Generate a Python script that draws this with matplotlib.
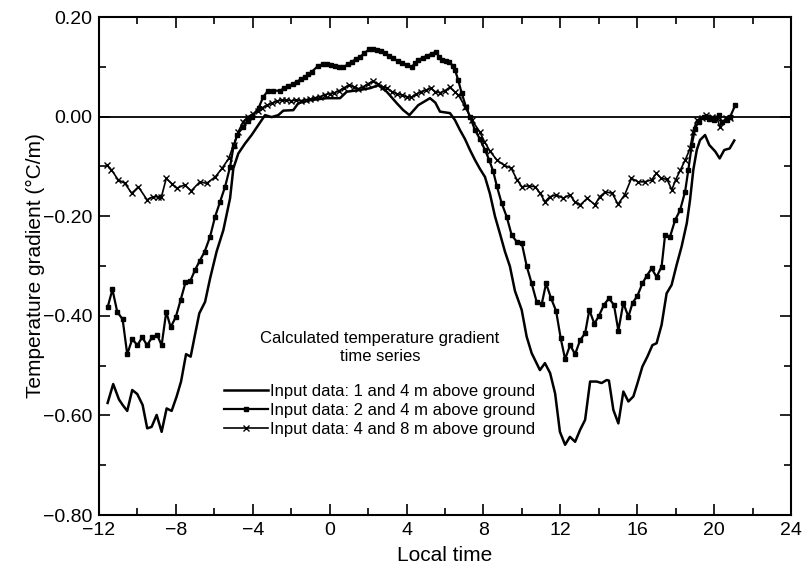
import matplotlib
matplotlib.use('Agg')
import matplotlib.pyplot as plt
from matplotlib.ticker import MultipleLocator, FuncFormatter

plt.rcParams['font.family'] = ['Liberation Sans', 'DejaVu Sans']

# --- 1 and 4 m above ground (solid) ---
x1 = [-11.55, -11.26, -10.96, -10.75, -10.53, -10.27, -10.01, -9.73, -9.49, -9.26,
      -9.0, -8.74, -8.48, -8.22, -7.96, -7.73, -7.47, -7.23, -7.01, -6.78,
      -6.48, -6.22, -5.88, -5.53, -5.18, -5.01, -4.75, -4.4, -4.06, -3.71,
      -3.36, -3.02, -2.67, -2.41, -1.89, -1.63, -1.02, -0.15, 0.54, 0.89,
      1.49, 2.1, 2.53, 2.97, 3.49, 3.83, 4.15, 4.61, 5.22, 5.5,
      5.74, 6.26, 6.52, 6.78, 7.04, 7.3, 7.56, 7.82, 8.08, 8.34,
      8.6, 8.86, 9.12, 9.38, 9.64, 9.99, 10.25, 10.51, 10.94, 11.2,
      11.47, 11.73, 11.98, 12.25, 12.5, 12.77, 13.03, 13.29, 13.55, 13.89,
      14.15, 14.41, 14.53, 14.76, 15.02, 15.28, 15.54, 15.8, 16.01, 16.27,
      16.53, 16.79, 17.01, 17.27, 17.53, 17.79, 18.05, 18.31, 18.58, 18.75,
      18.92, 19.1, 19.27, 19.53, 19.75, 20.06, 20.29, 20.53, 20.81, 21.05]
y1 = [-0.575, -0.537, -0.568, -0.580, -0.591, -0.549, -0.557, -0.579, -0.626, -0.623,
      -0.599, -0.633, -0.586, -0.591, -0.562, -0.532, -0.477, -0.482, -0.439, -0.395,
      -0.372, -0.325, -0.271, -0.228, -0.164, -0.104, -0.074, -0.054, -0.037, -0.017,
      0.003, -0.001, 0.003, 0.012, 0.013, 0.027, 0.033, 0.037, 0.037, 0.050,
      0.053, 0.057, 0.063, 0.050, 0.027, 0.013, 0.003, 0.023, 0.037, 0.028,
      0.010, 0.007, -0.007, -0.027, -0.045, -0.067, -0.087, -0.105, -0.121, -0.155,
      -0.200, -0.235, -0.271, -0.301, -0.350, -0.388, -0.442, -0.475, -0.509, -0.495,
      -0.515, -0.556, -0.633, -0.659, -0.643, -0.653, -0.629, -0.609, -0.532, -0.532,
      -0.535, -0.529, -0.530, -0.589, -0.616, -0.552, -0.572, -0.562, -0.536, -0.502,
      -0.482, -0.459, -0.455, -0.418, -0.355, -0.338, -0.298, -0.261, -0.214, -0.167,
      -0.107, -0.067, -0.047, -0.037, -0.057, -0.070, -0.084, -0.067, -0.064, -0.048]

# --- 2 and 4 m above ground (dots) ---
x2 = [-11.55, -11.3, -11.05, -10.77, -10.53, -10.27, -10.0, -9.75, -9.5, -9.23,
      -8.97, -8.74, -8.5, -8.27, -8.0, -7.75, -7.5, -7.25, -7.0, -6.75,
      -6.5, -6.22, -5.96, -5.7, -5.44, -5.18, -5.0, -4.8, -4.5, -4.25,
      -4.05, -3.7, -3.45, -3.2, -2.95, -2.6, -2.35, -2.15, -1.9, -1.7,
      -1.5, -1.28, -1.1, -0.93, -0.6, -0.35, -0.15, 0.05, 0.28, 0.5,
      0.71, 0.95, 1.14, 1.35, 1.58, 1.8, 2.05, 2.25, 2.45, 2.65,
      2.88, 3.1, 3.31, 3.55, 3.75, 4.0, 4.27, 4.45, 4.61, 4.85,
      5.05, 5.3, 5.53, 5.7, 5.83, 6.05, 6.22, 6.4, 6.52, 6.69,
      6.87, 7.09, 7.3, 7.56, 7.82, 8.08, 8.3, 8.51, 8.7, 8.95,
      9.21, 9.47, 9.73, 9.99, 10.25, 10.51, 10.77, 11.03, 11.26, 11.52,
      11.78, 12.02, 12.25, 12.51, 12.77, 13.03, 13.29, 13.51, 13.77, 14.01,
      14.27, 14.53, 14.79, 15.02, 15.28, 15.54, 15.76, 16.01, 16.27, 16.49,
      16.75, 17.01, 17.27, 17.45, 17.71, 17.97, 18.23, 18.49, 18.66, 18.84,
      19.01, 19.19, 19.45, 19.71, 19.97, 20.23, 20.4, 20.66, 20.84, 21.1]
y2 = [-0.383, -0.347, -0.392, -0.407, -0.477, -0.447, -0.459, -0.443, -0.459, -0.443,
      -0.439, -0.459, -0.392, -0.423, -0.402, -0.368, -0.333, -0.330, -0.308, -0.289,
      -0.271, -0.241, -0.201, -0.171, -0.141, -0.101, -0.060, -0.036, -0.020, -0.008,
      0.000, 0.017, 0.040, 0.052, 0.052, 0.052, 0.057, 0.061, 0.066, 0.070,
      0.075, 0.080, 0.085, 0.090, 0.102, 0.105, 0.106, 0.104, 0.102, 0.100,
      0.099, 0.105, 0.110, 0.115, 0.120, 0.127, 0.135, 0.135, 0.134, 0.131,
      0.127, 0.122, 0.117, 0.112, 0.107, 0.103, 0.100, 0.107, 0.114, 0.118,
      0.122, 0.126, 0.130, 0.120, 0.114, 0.112, 0.110, 0.102, 0.094, 0.073,
      0.047, 0.020, 0.000, -0.027, -0.045, -0.067, -0.087, -0.110, -0.140, -0.174,
      -0.201, -0.238, -0.251, -0.253, -0.300, -0.335, -0.372, -0.377, -0.335, -0.365,
      -0.390, -0.445, -0.487, -0.459, -0.477, -0.449, -0.435, -0.388, -0.416, -0.400,
      -0.378, -0.365, -0.378, -0.430, -0.374, -0.402, -0.374, -0.360, -0.335, -0.320,
      -0.305, -0.322, -0.301, -0.238, -0.241, -0.208, -0.188, -0.151, -0.107, -0.057,
      -0.024, -0.010, 0.000, -0.005, -0.007, 0.003, -0.010, -0.007, 0.000, 0.023]

# --- 4 and 8 m above ground (crosses) ---
x3 = [-11.6, -11.35, -11.0, -10.65, -10.3, -9.95, -9.5, -9.2, -8.95, -8.75,
      -8.5, -8.2, -7.95, -7.55, -7.2, -6.75, -6.4, -5.95, -5.6, -5.25,
      -5.0, -4.75, -4.5, -4.25, -4.0, -3.75, -3.5, -3.25, -3.0, -2.75,
      -2.5, -2.25, -2.0, -1.75, -1.5, -1.25, -1.0, -0.75, -0.5, -0.25,
      0.0, 0.25, 0.5, 0.75, 1.0, 1.25, 1.5, 1.75, 2.0, 2.25,
      2.5, 2.75, 3.0, 3.25, 3.5, 3.75, 4.0, 4.25, 4.5, 4.75,
      5.0, 5.25, 5.5, 5.75, 6.0, 6.25, 6.5, 6.7, 7.05, 7.4,
      7.8, 8.05, 8.35, 8.7, 9.05, 9.45, 9.75, 10.0, 10.35, 10.7,
      10.95, 11.2, 11.45, 11.8, 12.15, 12.5, 12.75, 13.05, 13.4, 13.8,
      14.05, 14.35, 14.7, 15.0, 15.35, 15.7, 16.05, 16.4, 16.75, 17.0,
      17.25, 17.55, 17.8, 18.0, 18.25, 18.5, 18.75, 18.9, 19.1, 19.35,
      19.6, 19.9, 20.15, 20.3, 20.6, 20.85]
y3 = [-0.097, -0.107, -0.127, -0.134, -0.154, -0.141, -0.167, -0.161, -0.161, -0.161,
      -0.124, -0.135, -0.144, -0.137, -0.149, -0.131, -0.134, -0.121, -0.104, -0.084,
      -0.057, -0.030, -0.010, 0.000, 0.005, 0.012, 0.018, 0.023, 0.027, 0.031,
      0.033, 0.033, 0.032, 0.033, 0.032, 0.034, 0.035, 0.038, 0.040, 0.044,
      0.046, 0.048, 0.052, 0.058, 0.063, 0.060, 0.056, 0.060, 0.066, 0.071,
      0.066, 0.060, 0.057, 0.050, 0.046, 0.043, 0.040, 0.039, 0.045, 0.050,
      0.053, 0.057, 0.050, 0.048, 0.052, 0.059, 0.050, 0.043, 0.020, -0.007,
      -0.030, -0.050, -0.070, -0.087, -0.097, -0.104, -0.127, -0.141, -0.139, -0.141,
      -0.154, -0.171, -0.161, -0.157, -0.164, -0.157, -0.171, -0.177, -0.164, -0.177,
      -0.161, -0.151, -0.154, -0.176, -0.157, -0.124, -0.131, -0.131, -0.127, -0.114,
      -0.124, -0.126, -0.147, -0.127, -0.107, -0.087, -0.064, -0.030, -0.007, -0.003,
      0.003, 0.000, -0.003, -0.020, -0.003, -0.003]

labels = ['Input data: 1 and 4 m above ground',
          'Input data: 2 and 4 m above ground',
          'Input data: 4 and 8 m above ground']

fig = plt.figure(figsize=(8.04, 5.67), dpi=100)
ax = fig.add_axes([0.1231, 0.0917, 0.8607, 0.8783])

ax.axhline(0, color='black', linewidth=1.3, zorder=1)
ax.plot(x1, y1, color='black', linewidth=1.8, label=labels[0])
ax.plot(x2, y2, color='black', linewidth=1.6, marker='s', markersize=3.5,
        label=labels[1])
ax.plot(x3, y3, color='black', linewidth=1.2, marker='x', markersize=4,
        markeredgewidth=1.0, label=labels[2])

ax.set_xlim(-12, 24)
ax.set_ylim(-0.8, 0.2)
ax.xaxis.set_major_locator(MultipleLocator(4))
ax.xaxis.set_minor_locator(MultipleLocator(2))
ax.yaxis.set_major_locator(MultipleLocator(0.2))
ax.yaxis.set_minor_locator(MultipleLocator(0.1))
ax.yaxis.set_major_formatter(FuncFormatter(lambda v, p: f'{v:.2f}'.replace('-', '\u2212')))
ax.tick_params(which='both', direction='in', top=True, right=True,
               labelsize=14, width=1.2, pad=5)
ax.tick_params(which='major', length=8)
ax.tick_params(which='minor', length=5)
for sp in ax.spines.values():
    sp.set_linewidth(1.5)

ax.set_xlabel('Local time', fontsize=15, labelpad=5)
ax.set_ylabel('Temperature gradient (\u00b0C/m)', fontsize=15)
ax.yaxis.set_label_coords(-0.078, 0.5)

leg = ax.legend(title='Calculated temperature gradient\ntime series',
                loc='lower center', bbox_to_anchor=(0.406, 0.126),
                frameon=False, fontsize=12, title_fontsize=12,
                handlelength=2.6, handletextpad=0.15, labelspacing=0.25,
                numpoints=1, markerscale=1.0)
leg.get_title().set_multialignment('center')
leg.get_title().set_linespacing(1.3)
leg._legend_box.sep = 14

fig.savefig('out.png', dpi=100)
